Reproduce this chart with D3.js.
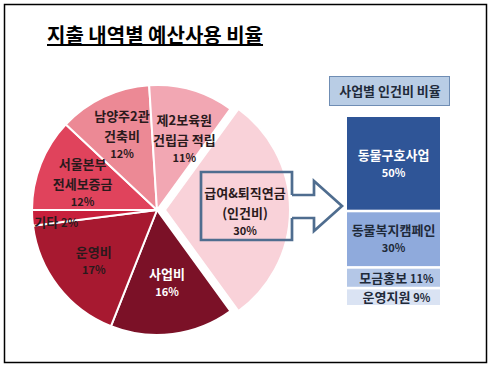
<!DOCTYPE html>
<html>
<head>
<meta charset="utf-8">
<script src="https://cdn.jsdelivr.net/npm/d3@7"></script>
<style>
    body { margin: 0; background: #fff; }
    text { font-family: "Noto Sans CJK KR", "Noto Sans", sans-serif; font-weight: 700; }
</style>
</head>
<body>
<svg width="492" height="373"></svg>
<script>
// pie: spending by item, clockwise from 9 o'clock
const sliceNames = [["서울본부", "전세보증금"], ["남양주2관", "건축비"], ["제2보육원", "건립금 적립"],
    ["급여&퇴직연금", "(인건비)"], ["사업비"], ["운영비"], ["기타"]];
const sliceValues = [12, 12, 11, 30, 16, 17, 2];
const sliceColors = ["#e0435c", "#ec8995", "#f2a7b3", "#f9d2d9", "#7b1127", "#a71930", "#c8203c"];

// stacked bar: personnel cost by project
const barNames = ["동물구호사업", "동물복지캠페인", "모금홍보", "운영지원"];
const barValues = [50, 30, 11, 9];
const barColors = ["#2f5597", "#8faadc", "#b4c7e7", "#dae3f3"];

const svg = d3.select("svg");

svg.append("rect")
    .attr("x", 4.5).attr("y", 4.5)
    .attr("width", 482).attr("height", 358)
    .attr("fill", "#fff")
    .attr("stroke", "#000")
    .attr("stroke-width", 1.5);

svg.append("text")
    .attr("x", 47).attr("y", 43)
    .attr("font-size", 20)
    .style("text-decoration", "underline")
    .text("지출 내역별 예산사용 비율");

// ---- pie ----
const cx = 157, cy = 210, R = 125;
const explode = 8;
const pie = d3.pie().sort(null).startAngle(-Math.PI / 2).endAngle(1.5 * Math.PI);
const arcs = pie(sliceValues);
const arc = d3.arc().innerRadius(0).outerRadius(R);
const labelArc = d3.arc().innerRadius(80).outerRadius(80);
const smallArc = d3.arc().innerRadius(101).outerRadius(101);
const big = d3.maxIndex(sliceValues);
// hand nudges so labels sit where the original put them
const nudge = { 1: [-1, -5], 2: [5, 4], 4: [0, -8], 6: [0, 8] };

const offset = d => {
    if (d.index !== big) return [0, 0];
    const a = (d.startAngle + d.endAngle) / 2;
    return [explode * Math.sin(a), -explode * Math.cos(a)];
};

const g = svg.append("g").attr("transform", `translate(${cx},${cy})`);

g.selectAll("path")
    .data(arcs)
    .join("path")
    .attr("d", arc)
    .attr("transform", d => `translate(${offset(d)})`)
    .attr("fill", (d, i) => sliceColors[i])
    .attr("stroke", "#fff")
    .attr("stroke-width", 2);

const labels = g.selectAll("g.lbl")
    .data(arcs)
    .join("g")
    .attr("class", "lbl")
    .attr("transform", d => {
        const c = d.value < 5 ? smallArc.centroid(d) : labelArc.centroid(d);
        const o = offset(d);
        const n = nudge[d.index] || [0, 0];
        return `translate(${c[0] + o[0] + n[0]},${c[1] + o[1] + n[1]})`;
    });

labels.each(function (d, i) {
    const el = d3.select(this);
    const fill = i === 4 ? "#fff" : "#2a1a1c";
    if (d.value < 5) {
        const t = el.append("text").attr("text-anchor", "middle").attr("y", 3).attr("fill", fill);
        t.append("tspan").attr("font-size", 13).text(sliceNames[i][0] + " ");
        t.append("tspan").attr("font-size", 11).text(d.value + "%");
        return;
    }
    const lines = sliceNames[i];
    const top = -((lines.length) * 20) / 2 + 3;
    lines.forEach((s, k) => {
        el.append("text")
            .attr("text-anchor", "middle")
            .attr("y", top + k * 20 + 5)
            .attr("font-size", 13)
            .attr("fill", fill)
            .text(s);
    });
    el.append("text")
        .attr("text-anchor", "middle")
        .attr("y", top + lines.length * 20 + 2)
        .attr("font-size", 11)
        .attr("fill", fill)
        .text(d.value + "%");
});

// callout box around the personnel slice label, plus the arrow
const bc = labelArc.centroid(arcs[big]);
const bo = offset(arcs[big]);
const bx = cx + bc[0] + bo[0], by = cy + bc[1] + bo[1];
const x0 = bx - 44, x1 = bx + 47, y0 = by - 38, y1 = by + 30;
const sh0 = by - 15, sh1 = by + 8, hd0 = by - 29, hd1 = by + 21, tip = x1 + 50;
svg.append("path")
    .attr("d", `M${x1},${sh0} V${y0} H${x0} V${y1} H${x1} V${sh1}
        M${x1},${sh0} H${x1 + 22} V${hd0} L${tip},${(hd0 + hd1) / 2} L${x1 + 22},${hd1} V${sh1} H${x1}`)
    .attr("fill", "none")
    .attr("stroke", "#4f6d8f")
    .attr("stroke-width", 2.7)
    .attr("stroke-linejoin", "miter");

// ---- stacked bar ----
svg.append("rect")
    .attr("x", 329.5).attr("y", 76.5)
    .attr("width", 120).attr("height", 29)
    .attr("fill", "#b9cde5")
    .attr("stroke", "#6f8db4");
svg.append("text")
    .attr("x", 390).attr("y", 96)
    .attr("text-anchor", "middle")
    .attr("font-size", 13)
    .attr("fill", "#1f2a3a")
    .text("사업별 인건비 비율");

const xb = d3.scaleBand(["인건비"], [347, 440]);
const yb = d3.scaleLinear([0, 100], [117, 305]);
const ends = d3.cumsum(barValues);
const segs = barValues.map((v, i) => ({ name: barNames[i], value: v, y0: ends[i] - v, y1: ends[i], i }));

const bars = svg.append("g");
bars.selectAll("rect")
    .data(segs)
    .join("rect")
    .attr("x", xb("인건비"))
    .attr("width", xb.bandwidth())
    .attr("y", d => yb(d.y0) + (d.i ? 1.3 : 0))
    .attr("height", d => yb(d.y1) - yb(d.y0) - (d.i ? 1.3 : 0) - (d.i < 3 ? 1.3 : 0))
    .attr("fill", d => barColors[d.i]);

bars.selectAll("g")
    .data(segs)
    .join("g")
    .attr("transform", d => `translate(${xb("인건비") + xb.bandwidth() / 2},${yb((d.y0 + d.y1) / 2)})`)
    .each(function (d) {
        const el = d3.select(this);
        const fill = d.i === 0 ? "#fff" : "#1f2a3a";
        if (d.value >= 20) {
            el.append("text").attr("text-anchor", "middle").attr("y", -4)
                .attr("font-size", 13).attr("fill", fill).text(d.name);
            el.append("text").attr("text-anchor", "middle").attr("y", 13)
                .attr("font-size", 11).attr("fill", fill).text(d.value + "%");
        } else {
            const t = el.append("text").attr("text-anchor", "middle").attr("y", 5).attr("x", 3).attr("fill", fill);
            t.append("tspan").attr("font-size", 13).text(d.name + "  ");
            t.append("tspan").attr("font-size", 11).text(d.value + "%");
        }
    });
</script>
</body>
</html>
